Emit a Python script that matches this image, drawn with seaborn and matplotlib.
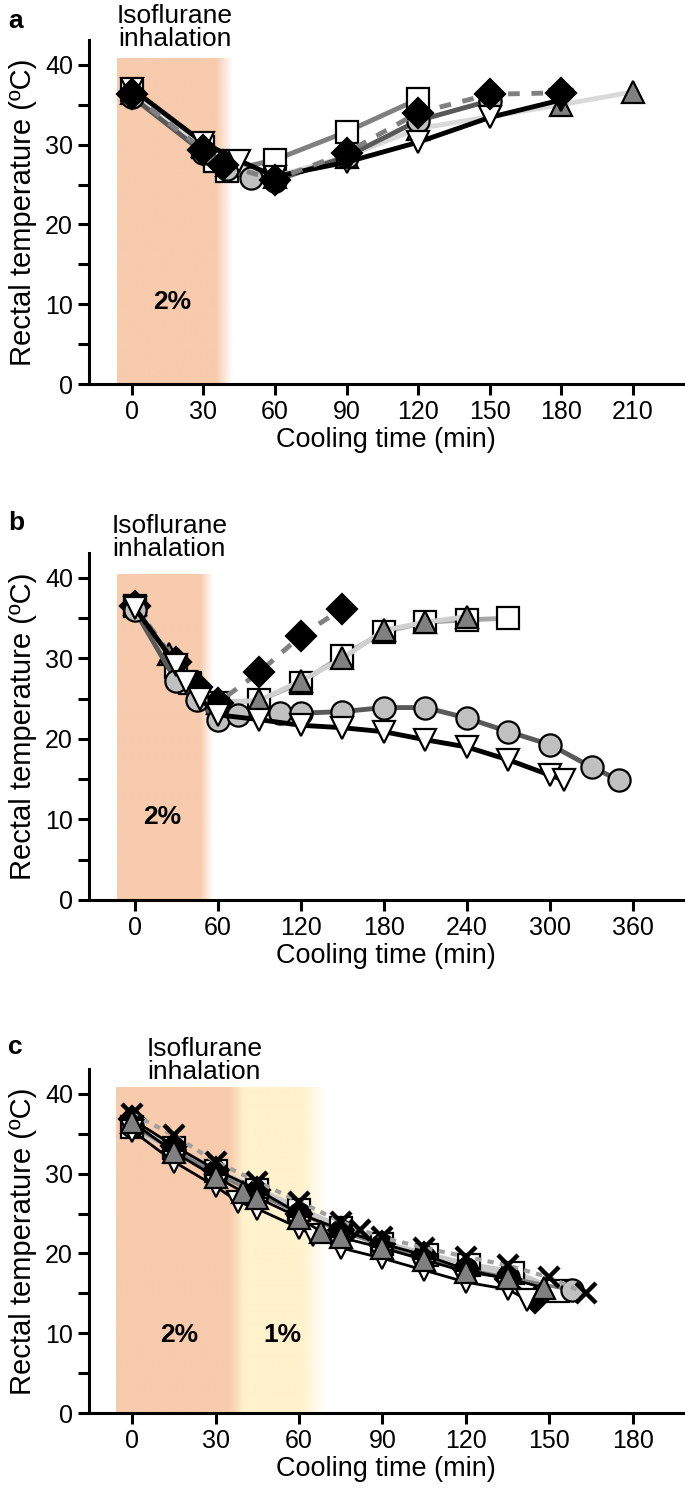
import numpy as np
import matplotlib
matplotlib.use('Agg')
import matplotlib.pyplot as plt
from matplotlib.ticker import MultipleLocator
import seaborn as sns

sns.set_style('ticks')
plt.rcParams['font.family'] = ['Liberation Sans', 'DejaVu Sans']
plt.rcParams['text.color'] = 'black'
plt.rcParams['axes.labelcolor'] = 'black'

# ---- panel a data (time in min, rectal temperature in degC) ----
a_sq_t = [0, 30, 35, 40, 60, 90, 120]
a_sq_T = [36.9, 29.7, 28.0, 26.7, 28.1, 31.6, 35.7]
a_tri_t = [0, 30, 40, 60, 90, 120, 180, 210]
a_tri_T = [36.5, 29.8, 27.5, 26.0, 28.5, 32.0, 35.0, 36.6]
a_cir_t = [0, 30, 40, 50, 60, 90, 120, 150]
a_cir_T = [36.0, 29.0, 27.0, 25.8, 25.5, 28.5, 33.0, 35.5]
a_inv_t = [0, 30, 45, 60, 90, 120, 150, 180]
a_inv_T = [37.0, 30.2, 28.0, 26.0, 27.8, 30.3, 33.4, 35.6]
a_dia_t = [0, 30, 38, 60, 90, 120, 150, 180]
a_dia_T = [36.3, 29.3, 27.5, 25.6, 29.0, 34.0, 36.3, 36.5]

# ---- panel b data ----
b_sq_t = [0, 30, 40, 60, 90, 120, 150, 180, 210, 240, 270]
b_sq_T = [36.5, 29.0, 27.0, 24.5, 24.8, 27.0, 30.3, 33.3, 34.5, 34.8, 35.0]
b_tri_t = [0, 25, 35, 60, 90, 120, 150, 180, 210, 240]
b_tri_T = [36.8, 30.5, 27.5, 24.5, 24.8, 27.2, 30.0, 33.5, 34.5, 35.2]
b_cir_t = [0, 30, 45, 60, 75, 105, 120, 150, 180, 210, 240, 270, 300, 330, 350]
b_cir_T = [36.0, 27.2, 24.8, 22.4, 23.0, 23.2, 23.2, 23.4, 23.9, 23.9, 22.6, 20.9, 19.3, 16.5, 14.9]
b_inv_t = [0, 30, 37, 47, 60, 90, 120, 150, 180, 210, 240, 270, 300, 310]
b_inv_T = [36.3, 29.2, 27.1, 25.0, 23.0, 22.4, 21.7, 21.4, 20.9, 19.9, 19.0, 17.4, 15.5, 14.9]
b_dia_t = [0, 30, 45, 60, 90, 120, 150]
b_dia_T = [36.5, 29.5, 26.5, 24.5, 28.3, 32.8, 36.2]

# ---- panel c data ----
c_sq_t = [0, 15, 30, 45, 60, 75, 90, 106, 121, 137, 153]
c_sq_T = [35.8, 33.2, 30.3, 28.0, 25.5, 23.2, 21.2, 19.8, 18.5, 17.6, 15.3]
c_cir_t = [0, 15, 30, 45, 60, 75, 90, 105, 120, 135, 158]
c_cir_T = [36.0, 33.0, 30.0, 27.5, 25.0, 22.8, 21.0, 19.5, 18.0, 17.0, 15.4]
c_dia_t = [0, 15, 30, 45, 60, 75, 90, 105, 120, 135, 145]
c_dia_T = [36.8, 33.5, 30.5, 28.0, 25.0, 23.0, 21.2, 19.8, 18.0, 16.8, 14.2]
c_inv_t = [0, 15, 30, 38, 45, 60, 65, 75, 90, 105, 120, 135, 142]
c_inv_T = [35.4, 31.5, 28.4, 26.5, 25.6, 23.2, 22.3, 20.7, 19.4, 17.9, 16.4, 15.5, 14.2]
c_tri_t = [0, 15, 30, 40, 45, 60, 68, 75, 90, 105, 120, 135, 148]
c_tri_T = [36.5, 32.7, 29.6, 27.7, 27.0, 24.5, 22.7, 22.0, 20.7, 19.2, 17.7, 16.9, 15.7]
c_x_t = [0, 15, 30, 45, 60, 75, 82, 90, 105, 120, 135, 150, 163]
c_x_T = [37.5, 34.8, 31.5, 29.0, 26.5, 24.0, 23.0, 22.0, 20.7, 19.6, 18.5, 17.0, 15.0]

ORANGE = np.array([248, 203, 173]) / 255
YELLOW = np.array([255, 242, 204]) / 255
MS = 16
MEW = 1.6


def series(ax, t, T, lc, marker, fc, ls='-', lw=3.5, z=3, ms=MS, mec='black', mew=MEW):
    sns.lineplot(x=t, y=T, ax=ax, estimator=None, color=lc, lw=lw, ls=ls,
                 marker=marker, markersize=ms, markerfacecolor=fc,
                 markeredgecolor=mec, markeredgewidth=mew, zorder=z)


def band(ax, x0, x1, fade_start, ytop, c0, c1=None):
    # coloured block; after fade_start it blends to white (or to c1)
    n = 300
    xs = np.linspace(x0, x1, n)
    img = np.ones((1, n, 4))
    for i, x in enumerate(xs):
        f = 0 if x < fade_start else (x - fade_start) / (x1 - fade_start)
        if c1 is None:
            img[0, i, :3] = c0
            img[0, i, 3] = 1 - f
        else:
            img[0, i, :3] = c0 * (1 - f) + c1 * f
    ax.imshow(img, extent=[x0, x1, 0, ytop], aspect='auto', zorder=0,
              interpolation='bilinear')


def style(ax, xlim, xticks):
    ax.set_xlim(*xlim)
    ax.set_ylim(0, 43.1)
    ax.set_xticks(xticks)
    ax.set_yticks([0, 10, 20, 30, 40])
    ax.yaxis.set_minor_locator(MultipleLocator(5))
    for s in ['top', 'right']:
        ax.spines[s].set_visible(False)
    for s in ['left', 'bottom']:
        ax.spines[s].set_linewidth(2.2)
        ax.spines[s].set_color('black')
    ax.tick_params(which='both', direction='out', length=8, width=2.2,
                   labelsize=18, colors='black')
    ax.set_xlabel('Cooling time (min)', fontsize=19.5, labelpad=2)
    ax.set_ylabel('Rectal temperature (ºC)', fontsize=21, labelpad=6)


fig = plt.figure(figsize=(6.85, 14.89), dpi=100)
ax_a = fig.add_axes([0.1299, 0.7421, 0.867, 0.2310])
ax_b = fig.add_axes([0.1299, 0.3956, 0.867, 0.2330])
ax_c = fig.add_axes([0.1299, 0.0510, 0.867, 0.2310])

# ---- panel a ----
band(ax_a, -6.3, 42, 35, 40.8, ORANGE)
series(ax_a, a_sq_t, a_sq_T, '#808080', 's', 'white', z=3)
series(ax_a, a_tri_t, a_tri_T, '#d9d9d9', '^', '#808080', z=4)
series(ax_a, a_cir_t, a_cir_T, '#595959', 'o', '#c0c0c0', z=5)
series(ax_a, a_inv_t, a_inv_T, 'black', 'v', 'white', z=6)
series(ax_a, a_dia_t, a_dia_T, '#808080', 'D', 'black', ls=(0, (2.4, 2.4)), z=7, ms=15)
style(ax_a, (-18, 231), [0, 30, 60, 90, 120, 150, 180, 210])
ax_a.text(17, 10.3, '2%', fontsize=19, fontweight='bold', ha='center', va='center')
ax_a.text(18, 47.6, 'Isoflurane\ninhalation', fontsize=19, ha='center', va='top',
          linespacing=0.95, clip_on=False)

# ---- panel b ----
band(ax_b, -13, 56, 47, 40.4, ORANGE)
series(ax_b, b_sq_t, b_sq_T, '#a6a6a6', 's', 'white', z=3)
series(ax_b, b_tri_t, b_tri_T, '#d0d0d0', '^', '#808080', z=4)
series(ax_b, b_dia_t, b_dia_T, '#808080', 'D', 'black', ls=(0, (2.4, 2.4)), z=4.5, ms=15)
series(ax_b, b_cir_t, b_cir_T, '#595959', 'o', '#c0c0c0', z=5)
series(ax_b, b_inv_t, b_inv_T, 'black', 'v', 'white', z=6)
style(ax_b, (-33, 396), [0, 60, 120, 180, 240, 300, 360])
ax_b.text(20, 10.3, '2%', fontsize=19, fontweight='bold', ha='center', va='center')
ax_b.text(25, 48.0, 'Isoflurane\ninhalation', fontsize=19, ha='center', va='top',
          linespacing=0.95, clip_on=False)

# ---- panel c ----
band(ax_c, -5.7, 40, 35, 40.8, ORANGE, YELLOW)
band(ax_c, 40, 70, 61, 40.8, YELLOW)
series(ax_c, c_sq_t, c_sq_T, '#c8c8c8', 's', 'white', lw=5, z=3)
series(ax_c, c_cir_t, c_cir_T, '#7f7f7f', 'o', '#c0c0c0', lw=2.5, z=3)
series(ax_c, c_dia_t, c_dia_T, 'black', 'D', 'black', lw=2, z=3, ms=13)
series(ax_c, c_x_t, c_x_T, '#a0a0a0', 'x', 'black', ls=(0, (1.5, 1.5)), lw=3, z=4,
       ms=15, mew=3.2)
series(ax_c, c_inv_t, c_inv_T, 'black', 'v', 'white', lw=2, z=5)
series(ax_c, c_tri_t, c_tri_T, 'black', '^', '#808080', lw=2, z=6)
style(ax_c, (-15.5, 198), [0, 30, 60, 90, 120, 150, 180])
ax_c.text(17, 9.8, '2%', fontsize=19, fontweight='bold', ha='center', va='center')
ax_c.text(54, 9.8, '1%', fontsize=19, fontweight='bold', ha='center', va='center')
ax_c.text(26, 47.1, 'Isoflurane\ninhalation', fontsize=19, ha='center', va='top',
          linespacing=0.95, clip_on=False)

for lbl, y in [('a', 0.994), ('b', 0.657), ('c', 0.305)]:
    fig.text(0.012, y, lbl, fontsize=19, fontweight='bold', va='top')

fig.savefig('out.png', dpi=100)
